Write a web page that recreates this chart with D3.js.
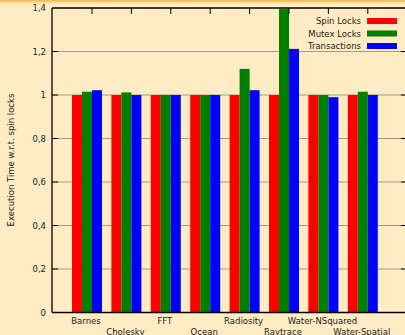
<!DOCTYPE html>
<html>
<head>
<meta charset="utf-8">
<script src="https://cdn.jsdelivr.net/npm/d3@7"></script>
<style>
  html, body { margin: 0; padding: 0; background: #ffecc4; }
  svg { display: block; font-family: "DejaVu Sans", sans-serif; }
</style>
</head>
<body>
<div id="chart"></div>
<script>
// benchmarks and the three lock variants
var benchmarks = ["Barnes", "Cholesky", "FFT", "Ocean", "Radiosity", "Raytrace", "Water-NSquared", "Water-Spatial"];
var seriesNames = ["Spin Locks", "Mutex Locks", "Transactions"];
var seriesColors = ["#ff0000", "#008000", "#0000ff"];

var spinLocks    = [1, 1, 1, 1, 1, 1, 1, 1];
var mutexLocks   = [1.015, 1.012, 1.0, 1.0, 1.12, 1.395, 1.0, 1.015];
var transactions = [1.022, 1.0, 1.0, 1.0, 1.022, 1.212, 0.99, 1.0];

var yTicks = [0, 0.2, 0.4, 0.6, 0.8, 1, 1.2, 1.4];
var yTickLabels = ["0", "0,2", "0,4", "0,6", "0,8", "1", "1,2", "1,4"];

var width = 405, height = 335;
// note: "top" is taken by window.top, so plot edges get their own names
var plotLeft = 52, plotRight = 407, plotTop = 8, plotBottom = 312.5;
var barW = 10;

var svg = d3.select("#chart").append("svg").attr("width", width).attr("height", height);

// orange strip along the top edge
var grad = svg.append("defs").append("linearGradient")
    .attr("id", "topfade").attr("x1", 0).attr("y1", 0).attr("x2", 0).attr("y2", 1);
grad.append("stop").attr("offset", "0%").attr("stop-color", "#f2b648");
grad.append("stop").attr("offset", "100%").attr("stop-color", "#ffecc4");
svg.append("rect").attr("x", 0).attr("y", 0).attr("width", width).attr("height", 4)
    .attr("fill", "url(#topfade)");

var y = d3.scaleLinear().domain([0, 1.4]).range([plotBottom, plotTop]);
var x = d3.scalePoint().domain(benchmarks).range([87, 362.8]);
var xInner = d3.scaleBand().domain(seriesNames).range([-1.5 * barW, 1.5 * barW]);

var innerTicks = yTicks.filter(d => d > 0 && d < 1.4);

// grid lines
svg.append("g").selectAll("line")
    .data(innerTicks)
    .join("line")
    .attr("x1", plotLeft).attr("x2", plotRight)
    .attr("y1", d => y(d)).attr("y2", d => y(d))
    .attr("stroke", "#a39a86").attr("stroke-width", 1);

// bars
var allSeries = [spinLocks, mutexLocks, transactions];
allSeries.forEach(function(values, si) {
    svg.append("g").selectAll("rect")
        .data(values)
        .join("rect")
        .attr("x", (d, i) => x(benchmarks[i]) + xInner(seriesNames[si]))
        .attr("width", xInner.bandwidth())
        .attr("y", d => y(d))
        .attr("height", d => y(0) - y(d))
        .attr("fill", seriesColors[si]);
});

// border (left, bottom, top)
var frame = svg.append("g").attr("stroke", "#000").attr("stroke-width", 1.3).attr("fill", "none");
frame.append("line").attr("x1", plotLeft).attr("x2", plotLeft).attr("y1", plotTop).attr("y2", plotBottom);
frame.append("line").attr("x1", plotLeft).attr("x2", plotRight).attr("y1", plotBottom).attr("y2", plotBottom);
frame.append("line").attr("x1", plotLeft).attr("x2", plotRight).attr("y1", plotTop).attr("y2", plotTop);

// y ticks, left and mirrored right
var yt = svg.append("g").attr("stroke", "#000").attr("stroke-width", 1);
innerTicks.forEach(function(d) {
    yt.append("line").attr("x1", plotLeft).attr("x2", plotLeft + 6).attr("y1", y(d)).attr("y2", y(d));
    yt.append("line").attr("x1", plotRight - 6).attr("x2", plotRight).attr("y1", y(d)).attr("y2", y(d));
});

// top x ticks
svg.append("g").selectAll("line")
    .data(benchmarks)
    .join("line")
    .attr("x1", d => x(d) + barW / 2).attr("x2", d => x(d) + barW / 2)
    .attr("y1", plotTop).attr("y2", plotTop + 6)
    .attr("stroke", "#000").attr("stroke-width", 1);

// y tick labels
svg.append("g").selectAll("text")
    .data(yTicks)
    .join("text")
    .attr("x", 46)
    .attr("y", d => y(d) + 3)
    .attr("text-anchor", "end")
    .attr("font-size", 8.5)
    .attr("fill", "#222")
    .text((d, i) => yTickLabels[i]);

// x labels, alternating rows
svg.append("g").selectAll("text")
    .data(benchmarks)
    .join("text")
    .attr("x", d => x(d) - 1)
    .attr("y", (d, i) => i % 2 === 0 ? 324 : 335)
    .attr("text-anchor", "middle")
    .attr("font-size", 8.5)
    .attr("fill", "#222")
    .text(d => d);

// y axis title
svg.append("text")
    .attr("transform", "translate(14,160) rotate(-90)")
    .attr("text-anchor", "middle")
    .attr("font-size", 8.5)
    .attr("fill", "#222")
    .text("Execution Time w.r.t. spin locks");

// legend
var legend = svg.append("g").selectAll("g")
    .data(seriesNames)
    .join("g")
    .attr("transform", (d, i) => "translate(0," + (21 + i * 12.5) + ")");
legend.append("text")
    .attr("x", 361).attr("y", 3)
    .attr("text-anchor", "end")
    .attr("font-size", 8.5)
    .attr("fill", "#222")
    .text(d => d);
legend.append("rect")
    .attr("x", 367).attr("y", -3)
    .attr("width", 30).attr("height", 6)
    .attr("fill", (d, i) => seriesColors[i]);
</script>
</body>
</html>
